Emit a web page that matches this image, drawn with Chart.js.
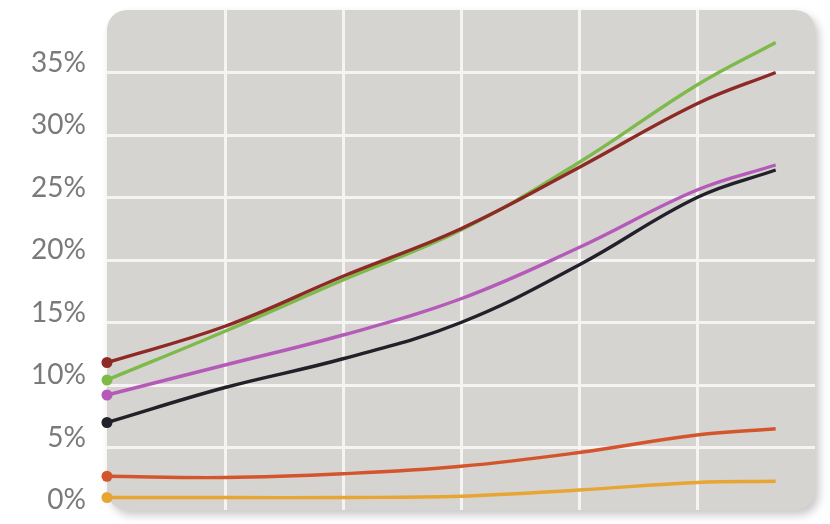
<!DOCTYPE html>
<html>
<head>
<meta charset="utf-8">
<script src="https://cdn.jsdelivr.net/npm/chart.js@4/dist/chart.umd.min.js"></script>
<style>
  html, body { margin: 0; padding: 0; background: #ffffff; }
  #wrap { width: 830px; height: 524px; position: relative; }
</style>
</head>
<body>
<div id="wrap"><canvas id="c" width="830" height="524"></canvas></div>
<script>
// x positions (one grid interval = 3 units)
const xPositions = [0, 3, 6, 9, 12, 15, 17];
const yTicks = [0, 5, 10, 15, 20, 25, 30, 35];

const maroonValues  = [11.8, 14.7, 18.7, 22.5, 27.4, 32.5, 35.0];
const greenValues   = [10.4, 14.3, 18.4, 22.4, 27.8, 34.0, 37.4];
const magentaValues = [9.2, 11.6, 14.0, 16.9, 21.0, 25.6, 27.6];
const blackValues   = [7.0, 9.8, 12.1, 15.0, 19.6, 25.0, 27.2];
const orangeValues  = [2.7, 2.6, 2.9, 3.5, 4.6, 6.0, 6.5];
const yellowValues  = [1.0, 1.0, 1.0, 1.1, 1.6, 2.2, 2.3];

const seriesNames  = ['A', 'B', 'C', 'D', 'E', 'F'];
const seriesValues = [maroonValues, greenValues, magentaValues, blackValues, orangeValues, yellowValues];
const seriesColors = ['#8e2a26', '#7dba4a', '#b55ab8', '#222028', '#d4552c', '#e8a532'];

const bgPlugin = {
  id: 'roundedBg',
  beforeDraw(chart) {
    const { ctx, chartArea: a } = chart;
    const r = 20;
    ctx.save();
    ctx.shadowColor = 'rgba(0,0,0,0.22)';
    ctx.shadowBlur = 10;
    ctx.shadowOffsetX = 4;
    ctx.shadowOffsetY = 5;
    ctx.fillStyle = '#d5d4d1';
    ctx.beginPath();
    ctx.roundRect(a.left, a.top, a.right - a.left, a.bottom - a.top, r);
    ctx.fill();
    ctx.restore();
  }
};

const datasets = seriesNames.map((n, i) => ({
  label: n,
  data: xPositions.map((x, j) => ({ x: x, y: seriesValues[i][j] })),
  borderColor: seriesColors[i],
  backgroundColor: seriesColors[i],
  borderWidth: 3.4,
  pointRadius: ctx => ctx.dataIndex === 0 ? 5.5 : 0,
  pointBorderWidth: 0,
  pointHoverRadius: 0,
  tension: 0.4,
  clip: false,
  fill: false
}));

new Chart(document.getElementById('c'), {
  type: 'line',
  data: { datasets },
  plugins: [bgPlugin],
  options: {
    responsive: false,
    animation: false,
    devicePixelRatio: 1,
    layout: { padding: { left: 0, right: 15, top: 10, bottom: 14 } },
    plugins: { legend: { display: false }, tooltip: { enabled: false } },
    scales: {
      x: {
        type: 'linear',
        min: 0,
        max: 18,
        afterFit: s => { s.height = 0; s.paddingLeft = 0; s.paddingRight = 0; },
        ticks: { display: false, stepSize: 3 },
        border: { display: false },
        grid: {
          drawTicks: false,
          lineWidth: 3,
          color: ctx => (ctx.tick && (ctx.tick.value === 0 || ctx.tick.value === 18)) ? 'rgba(0,0,0,0)' : '#f5f4f2'
        }
      },
      y: {
        min: 0,
        max: 40,
        afterFit: s => { s.width = 107; s.paddingTop = 0; s.paddingBottom = 0; },
        afterBuildTicks: s => { s.ticks = yTicks.map(v => ({ value: v })); },
        border: { display: false },
        grid: {
          drawTicks: false,
          lineWidth: 3,
          color: ctx => (ctx.tick && (ctx.tick.value === 0 || ctx.tick.value === 40)) ? 'rgba(0,0,0,0)' : '#f5f4f2'
        },
        ticks: {
          padding: 21,
          labelOffset: -10,
          color: '#7a7a7a',
          font: { family: 'Lato', size: 28 },
          callback: v => v + '%'
        }
      }
    }
  }
});
</script>
</body>
</html>
